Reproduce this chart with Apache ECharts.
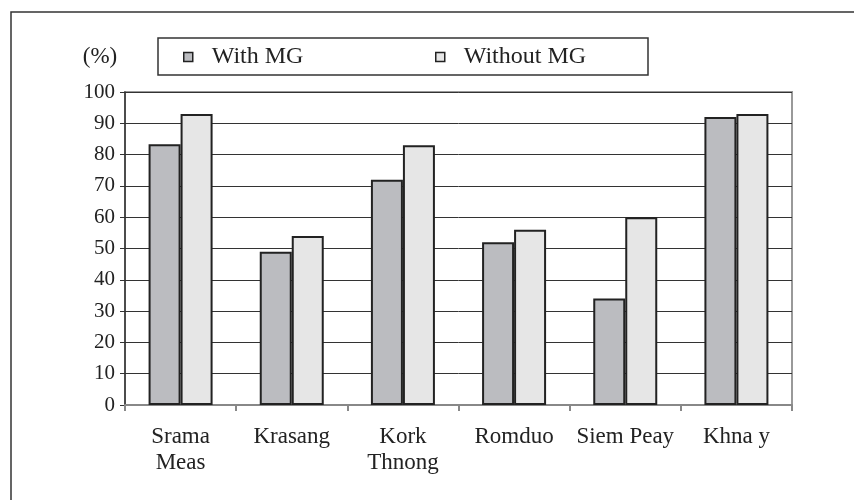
<!DOCTYPE html>
<html>
<head>
<meta charset="utf-8">
<script src="https://cdn.jsdelivr.net/npm/echarts@6/dist/echarts.min.js"></script>
<style>html,body{margin:0;padding:0;background:#fff;}#c{width:854px;height:500px;}</style>
</head>
<body>
<div id="c"></div>
<script>
const categories = ["Srama\nMeas", "Krasang", "Kork\nThnong", "Romduo", "Siem Peay", "Khna y"];
const withMG = [83.3, 49, 72, 52, 34, 92];
const withoutMG = [93, 54, 83, 56, 60, 93];
const yTicks = {min: 0, max: 100, interval: 10};
const seriesNames = ["With MG", "Without MG"];

const FONT = "Liberation Serif";
const chart = echarts.init(document.getElementById('c'));
const legendCommon = {
  orient: 'horizontal', top: 45, padding: 0, itemWidth: 9, itemHeight: 9, icon: 'rect',
  textStyle: {fontFamily: FONT, fontSize: 24, lineHeight: 24, color: '#222', padding: [0, 0, 0, 14]},
  itemStyle: {borderColor: '#222', borderWidth: 1.5}
};
chart.setOption({
  animation: false,
  backgroundColor: '#fff',
  graphic: [
    {type: 'rect', shape: {x: 11, y: 12, width: 900, height: 600}, style: {fill: 'none', stroke: '#333', lineWidth: 1.5}, z: 100},
    {type: 'rect', shape: {x: 158, y: 38, width: 490, height: 37}, style: {fill: 'none', stroke: '#333', lineWidth: 1.5}, z: 100},
    {type: 'text', x: 100, y: 57, style: {text: '(%)', fontFamily: FONT, fontSize: 23, fill: '#222', align: 'center', verticalAlign: 'middle'}}
  ],
  legend: [
    Object.assign({left: 183, data: [seriesNames[0]]}, legendCommon),
    Object.assign({left: 435, data: [seriesNames[1]]}, legendCommon)
  ],
  grid: {left: 125, right: 62, top: 92, bottom: 95, show: true, borderColor: '#999', borderWidth: 2, backgroundColor: 'transparent'},
  xAxis: {
    type: 'category', data: categories,
    axisLine: {lineStyle: {color: '#888', width: 2}},
    axisTick: {show: true, length: 6, lineStyle: {color: '#888', width: 2}},
    axisLabel: {fontFamily: FONT, fontSize: 23, color: '#222', margin: 19, lineHeight: 26, interval: 0}
  },
  yAxis: {
    type: 'value', min: yTicks.min, max: yTicks.max, interval: yTicks.interval,
    axisLine: {show: true, lineStyle: {color: '#333', width: 1.5}},
    axisTick: {show: true, length: 5, lineStyle: {color: '#333'}},
    axisLabel: {fontFamily: FONT, fontSize: 21, color: '#222', margin: 10},
    splitLine: {lineStyle: {color: '#333', width: 1}}
  },
  series: [
    {name: seriesNames[0], type: 'bar', data: withMG, barWidth: 32, barGap: '0%',
     itemStyle: {color: '#bbbcc0', borderColor: '#222', borderWidth: 2}},
    {name: seriesNames[1], type: 'bar', data: withoutMG, barWidth: 32, barGap: '0%',
     itemStyle: {color: '#e6e6e6', borderColor: '#222', borderWidth: 2}}
  ]
});
</script>
</body>
</html>
